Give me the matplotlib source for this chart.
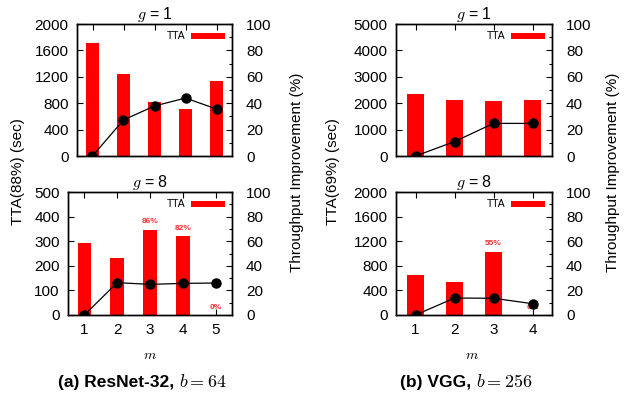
import matplotlib
matplotlib.use("Agg")
import matplotlib.pyplot as plt
import numpy as np

plt.rcParams['font.family'] = ['Liberation Sans', 'DejaVu Sans']
plt.rcParams['mathtext.fontset'] = 'cm'

# ---- data ----
res_g1_m = [1, 2, 3, 4, 5]
res_g1_tta = [1710, 1240, 820, 712, 1136]
res_g1_imp = [0, 27.3, 37.9, 43.9, 35.6]

res_g8_m = [1, 2, 3, 4, 5]
res_g8_tta = [294, 233, 347, 322, 0]
res_g8_imp = [0, 26.3, 24.9, 25.7, 26.0]
res_g8_labels = ["", "", "86%", "82%", "0%"]

vgg_g1_m = [1, 2, 3, 4]
vgg_g1_tta = [2348, 2121, 2083, 2134]
vgg_g1_imp = [0, 10.9, 24.7, 24.7]

vgg_g8_m = [1, 2, 3, 4]
vgg_g8_tta = [656, 542, 1030, 0]
vgg_g8_imp = [0, 13.8, 13.6, 9.2]
vgg_g8_labels = ["", "", "55%", "0%"]

W, H = 626, 404
fig = plt.figure(figsize=(W / 100, H / 100), dpi=100)

def box(x0, y0, x1, y1):
    return [x0 / W, 1 - y1 / H, (x1 - x0) / W, (y1 - y0) / H]

FS = 11
RED = '#ff0000'

def panel(rect, m, tta, imp, ymax, yticks, title, labels=None, xlabels=True):
    ax = fig.add_axes(rect)
    ax.bar(m, tta, width=0.42, color=RED, label='TTA', zorder=2)
    ax.set_xlim(0.5, len(m) + 0.5)
    ax.set_ylim(0, ymax)
    ax.set_yticks(yticks)
    ax.set_xticks(m)
    if not xlabels:
        ax.set_xticklabels([])
    ax.tick_params(direction='in', length=4, width=0.8, labelsize=FS, top=True, right=False)
    ax.tick_params(axis='y', pad=6)
    ax.tick_params(axis='x', pad=6)
    for s in ax.spines.values():
        s.set_linewidth(1.0)
    ax.set_title(title, fontsize=11.5, pad=2)
    ax.legend(loc='upper right', frameon=False, fontsize=7.5, handlelength=3.2,
              handleheight=0.5, markerfirst=False, borderaxespad=0.3, handletextpad=0.6)
    if labels is not None:
        for xi, v, lab in zip(m, tta, labels):
            if lab:
                ax.annotate(lab, (xi, v), xytext=(0, 3), textcoords='offset points',
                            ha='center', va='bottom', color='#ff3030', fontsize=6,
                            fontweight='bold', zorder=5)
    ax2 = ax.twinx()
    ax2.plot(m, imp, color='black', lw=0.9, marker='o', ms=6.5, zorder=4)
    ax2.set_ylim(0, 100)
    ax2.set_yticks([0, 20, 40, 60, 80, 100])
    ax2.set_yticks([10, 30, 50, 70, 90], minor=True)
    ax2.tick_params(direction='in', length=4, width=0.8, labelsize=FS, pad=10)
    ax2.tick_params(which='minor', direction='in', length=2.5, width=0.8)
    ax2.set_zorder(ax.get_zorder() + 1)
    ax2.patch.set_visible(False)
    for s in ax2.spines.values():
        s.set_linewidth(1.0)
    return ax, ax2

panel(box(77, 24, 232, 156), res_g1_m, res_g1_tta, res_g1_imp, 2000,
      [0, 400, 800, 1200, 1600, 2000], r'$g$ = 1', xlabels=False)
panel(box(68, 192, 232, 315), res_g8_m, res_g8_tta, res_g8_imp, 500,
      [0, 100, 200, 300, 400, 500], r'$g$ = 8', labels=res_g8_labels)
panel(box(396, 24, 552, 156), vgg_g1_m, vgg_g1_tta, vgg_g1_imp, 5000,
      [0, 1000, 2000, 3000, 4000, 5000], r'$g$ = 1', xlabels=False)
panel(box(396, 192, 552, 315), vgg_g8_m, vgg_g8_tta, vgg_g8_imp, 2000,
      [0, 400, 800, 1200, 1600, 2000], r'$g$ = 8', labels=vgg_g8_labels)

def ft(x, y, s, **kw):
    return fig.text(x / W, 1 - y / H, s, **kw)

ft(18, 172, 'TTA(88%) (sec)', rotation=90, ha='center', va='center', fontsize=11)
ft(297, 172, 'Throughput Improvement (%)', rotation=90, ha='center', va='center', fontsize=11)
ft(333, 172, 'TTA(69%) (sec)', rotation=90, ha='center', va='center', fontsize=11)
ft(613, 172, 'Throughput Improvement (%)', rotation=90, ha='center', va='center', fontsize=11)

ft(150, 355, r'$m$', ha='center', va='center', fontsize=10)
ft(472, 355, r'$m$', ha='center', va='center', fontsize=10)

# captions: bold sans part + math part, centred together
fig.canvas.draw()
renderer = fig.canvas.get_renderer()
def caption(cx, y, bold, math):
    t1 = ft(0, y, bold, ha='left', va='baseline', fontsize=12.5, fontweight='bold')
    t2 = ft(0, y, math, ha='left', va='baseline', fontsize=13)
    w1 = t1.get_window_extent(renderer).width
    w2 = t2.get_window_extent(renderer).width
    x0 = cx - (w1 + w2) / 2
    t1.set_x(x0 / W)
    t2.set_x((x0 + w1) / W)

caption(142, 387, '(a) ResNet-32, ', r'$b = 64$')
caption(466, 387, '(b) VGG, ', r'$b = 256$')

fig.savefig('out.png', dpi=100)
